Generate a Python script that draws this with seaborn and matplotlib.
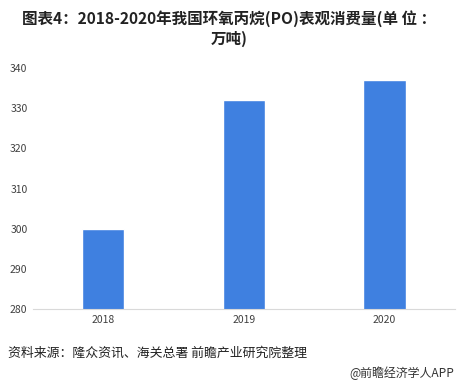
import matplotlib
matplotlib.use("Agg")
import matplotlib.pyplot as plt
import seaborn as sns
import pandas as pd

years = ["2018", "2019", "2020"]
consumption = [300, 332, 337]
y_ticks = [280, 290, 300, 310, 320, 330, 340]

sns.set_theme(style="white")
plt.rcParams['font.family'] = ['Noto Sans CJK SC', 'DejaVu Sans']

df = pd.DataFrame({"year": years, "value": consumption})

fig = plt.figure(figsize=(4.59, 3.87), dpi=100)
ax = fig.add_axes([0.072, 0.2016, 0.919, 0.6225])

sns.barplot(data=df, x="year", y="value", color="#3f80e0", saturation=1,
            width=0.3, ax=ax)

ax.set_ylim(280, 340)
ax.set_yticks(y_ticks)
ax.tick_params(axis="both", labelsize=7.5, colors="#404040", length=0, pad=4)
ax.set_xlabel("")
ax.set_ylabel("")
for side in ["top", "right", "left"]:
    ax.spines[side].set_visible(False)
ax.spines["bottom"].set_color("#d9d9d9")
ax.spines["bottom"].set_linewidth(0.8)

fig.text(0.5, 0.952, "图表4：2018-2020年我国环氧丙烷(PO)表观消费量(单 位 ：",
         ha="center", va="center", fontsize=11.2, fontweight="bold", color="#222222")
fig.text(0.5, 0.900, "万吨)", ha="center", va="center", fontsize=11.2,
         fontweight="bold", color="#222222")

fig.text(0.017, 0.088, "资料来源：隆众资讯、海关总署 前瞻产业研究院整理",
         ha="left", va="center", fontsize=9.3, color="#222222")
fig.text(0.99, 0.035, "@前瞻经济学人APP", ha="right", va="center",
         fontsize=8.6, color="#333333")

fig.savefig("out.png", dpi=100)
